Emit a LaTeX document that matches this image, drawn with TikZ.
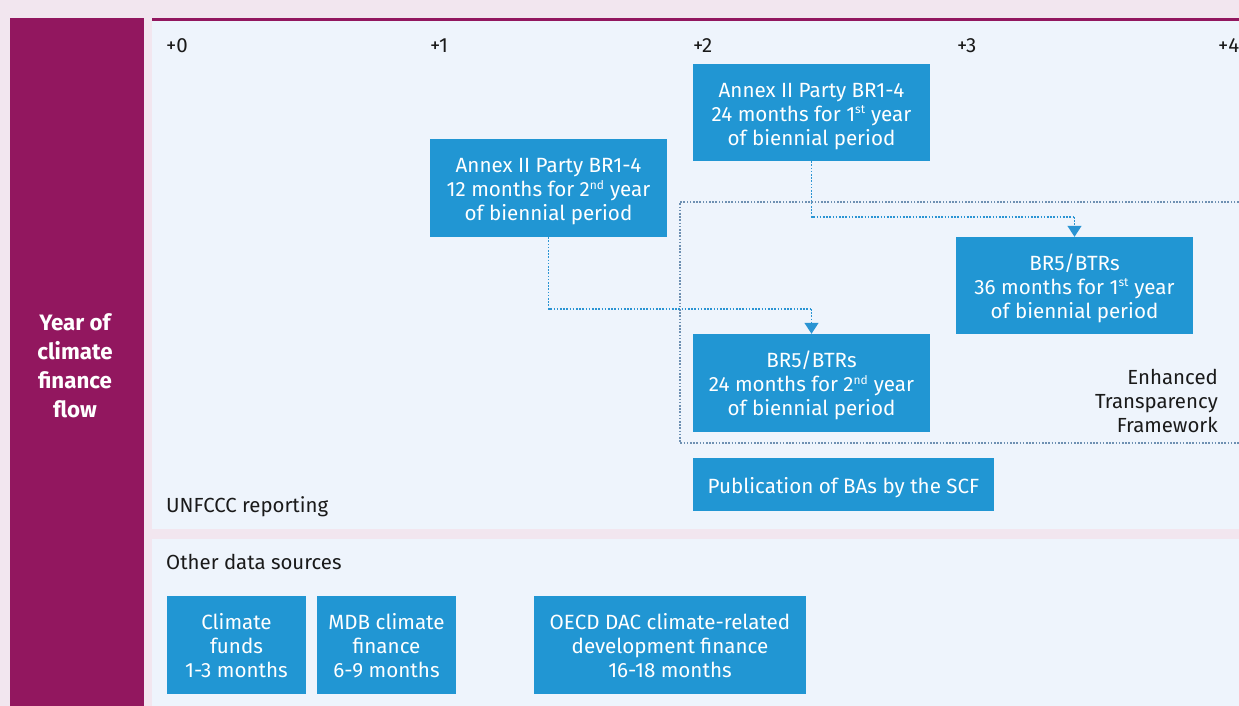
\documentclass[tikz,border=0pt]{standalone}
\usepackage{fontspec}
\setmainfont{Fira Sans}
\usetikzlibrary{arrows.meta}
\definecolor{pinkbg}{HTML}{F2E6EF}
\definecolor{purp}{HTML}{92175F}
\definecolor{panel}{HTML}{EEF4FC}
\definecolor{boxblue}{HTML}{2196D3}
\definecolor{connblue}{HTML}{2A94D3}
\definecolor{framec}{HTML}{6E90B2}
\definecolor{txt}{HTML}{1A1A1A}
\tikzset{
  bluebox/.style={fill=boxblue, text=white, inner sep=0pt,
    font=\fontsize{20.6}{24}\selectfont},
  tick/.style={anchor=west, text=txt, inner sep=0pt, font=\fontsize{20.5}{24}\selectfont},
  lbl/.style={anchor=west, text=txt, inner sep=0pt, font=\fontsize{20.4}{24}\selectfont},
  conn/.style={connblue, line width=1.3pt, dash pattern=on 1.6pt off 1.6pt,
    -{Triangle[width=14pt,length=11pt]}},
  connplain/.style={connblue, line width=1.3pt, dash pattern=on 1.6pt off 1.6pt},
  frame/.style={framec, line width=1.3pt, dash pattern=on 1.6pt off 1.6pt},
}
\newcommand{\sups}[1]{\textsuperscript{\fontsize{12}{12}\selectfont #1}}
\newcommand{\bt}[1]{\raisebox{-4pt}[\height][\depth]{\begin{tabular}{@{}c@{}}#1\end{tabular}}}
\begin{document}
\begin{tikzpicture}[x=1pt,y=-1pt]
\useasboundingbox (0,0) rectangle (1239,706);
% backgrounds
\fill[pinkbg] (0,0) rectangle (1239,706);
\fill[purp] (10,18) rectangle (144,706);
\fill[panel] (152,18) rectangle (1239,529);
\fill[purp] (152,18) rectangle (1239,21);
\fill[panel] (152,539) rectangle (1239,706);
% side label
\node[text=white, align=center, font=\fontsize{22.3}{29}\selectfont\bfseries] (side) at (75,366)
  {Year of\\climate\\finance\\flow};
% ticks
\node[tick] (t0) at (166,46) {+0};
\node[tick] (t1) at (430,46) {+1};
\node[tick] (t2) at (693,46) {+2};
\node[tick] (t3) at (957,46) {+3};
\node[tick] (t4) at (1218,46) {+4};
% ETF frame
\draw[frame] (1245,202) -- (680,202) -- (680,443) -- (1245,443);
\node[anchor=east, align=right, text=txt, inner sep=0pt, font=\fontsize{20.4}{24}\selectfont] (etf) at (1218,401)
  {Enhanced\\Transparency\\Framework};
% boxes
\node[bluebox, minimum width=237pt, minimum height=97pt] (A1) at (811.5,112.5)
  {\bt{Annex II Party BR1-4\\24 months for 1\sups{st} year\\of biennial period}};
\node[bluebox, minimum width=237pt, minimum height=98pt] (A2) at (548.5,188)
  {\bt{Annex II Party BR1-4\\12 months for 2\sups{nd} year\\of biennial period}};
\node[bluebox, minimum width=237pt, minimum height=97pt] (B1) at (1074.5,285.5)
  {\bt{BR5/BTRs\\36 months for 1\sups{st} year\\of biennial period}};
\node[bluebox, minimum width=237pt, minimum height=98pt] (B2) at (811.5,383)
  {\bt{BR5/BTRs\\24 months for 2\sups{nd} year\\of biennial period}};
\node[bluebox, minimum width=301pt, minimum height=53pt] (pub) at (843.5,484.5)
  {\bt{Publication of BAs by the SCF}};
\node[bluebox, minimum width=139pt, minimum height=98pt] (cf) at (236.5,645)
  {\bt{Climate\\funds\\1-3 months}};
\node[bluebox, minimum width=139pt, minimum height=98pt] (mdb) at (386.5,645)
  {\bt{MDB climate\\finance\\6-9 months}};
\node[bluebox, minimum width=272pt, minimum height=98pt] (oecd) at (670,645)
  {\bt{OECD DAC climate-related\\development finance\\16-18 months}};
% connectors
\coordinate (j1) at (811.5,309);
\coordinate (j2) at (1074.5,217);
\draw[connplain] (A2.south) |- (j1);
\draw[conn] (j1) -- (B2.north);
\draw[connplain] (A1.south) |- (j2);
\draw[conn] (j2) -- (B1.north);
% section labels
\node[lbl] (unf) at (166,507) {UNFCCC reporting};
\node[lbl] (other) at (166,562) {Other data sources};
\end{tikzpicture}
\end{document}
